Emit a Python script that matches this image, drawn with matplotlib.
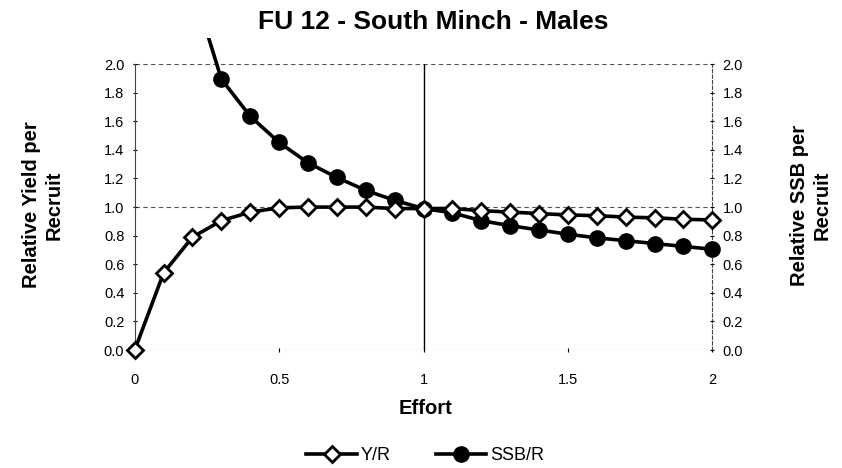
import matplotlib
matplotlib.use("Agg")
import matplotlib.pyplot as plt
from matplotlib.patches import Rectangle

plt.rcParams['font.family'] = ['Liberation Sans', 'DejaVu Sans']

effort = [0.0, 0.1, 0.2, 0.3, 0.4, 0.5, 0.6, 0.7, 0.8, 0.9, 1.0,
          1.1, 1.2, 1.3, 1.4, 1.5, 1.6, 1.7, 1.8, 1.9, 2.0]
yr = [0.0, 0.54, 0.79, 0.905, 0.965, 0.995, 1.0, 1.0, 1.0, 0.99, 0.99,
      0.99, 0.975, 0.965, 0.955, 0.945, 0.94, 0.93, 0.925, 0.915, 0.91]
ssbr = [5.5, 3.6, 2.55, 1.895, 1.635, 1.452, 1.31, 1.207, 1.117, 1.047, 0.99,
        0.96, 0.905, 0.87, 0.84, 0.81, 0.785, 0.765, 0.745, 0.725, 0.705]
yticks = [0.0, 0.2, 0.4, 0.6, 0.8, 1.0, 1.2, 1.4, 1.6, 1.8, 2.0]
xticks = [0, 0.5, 1, 1.5, 2]
xticklabels = ['0', '0.5', '1', '1.5', '2']

fig = plt.figure(figsize=(8.42, 4.68), dpi=100)
ax = fig.add_axes([0.160, 0.252, 0.686, 0.611])
ax.set_xlim(0, 2)
ax.set_ylim(0, 2)

for yv in (0.0, 1.0, 2.0):
    ax.axhline(yv, color='#555555', lw=0.8, ls=(0, (4, 3)), zorder=1)
ax.axvline(1.0, color='black', lw=1.0, zorder=1)

clip = Rectangle((-0.05, -0.05), 1.1, 1.14, transform=ax.transAxes, visible=False)
ax.add_patch(clip)

l2, = ax.plot(effort, ssbr, color='black', lw=2.6, marker='o', ms=11,
              mfc='black', mec='black', zorder=3, label='SSB/R')
l2.set_clip_path(clip)
l1, = ax.plot(effort, yr, color='black', lw=2.6, marker='D', ms=8,
              mfc='white', mec='black', mew=2, zorder=4, label='Y/R',
              clip_on=False)

ax.set_yticks(yticks)
ax.set_yticklabels([f'{v:.1f}' for v in yticks])
ax.set_xticks(xticks)
ax.set_xticklabels(xticklabels)
ax.tick_params(axis='both', labelsize=10.5, length=3, width=0.8, direction='inout')
ax.tick_params(axis='x', pad=15)
ax.tick_params(axis='y', pad=6)

ax.spines['top'].set_visible(False)
ax.spines['bottom'].set_visible(False)
ax.spines['right'].set_linestyle((0, (3, 2)))
ax.spines['right'].set_color('#444444')
ax.spines['left'].set_color('#444444')
ax.spines['left'].set_linewidth(0.8)
ax.spines['right'].set_linewidth(0.8)

ax2 = ax.twinx()
ax2.set_ylim(0, 2)
ax2.set_yticks(yticks)
ax2.set_yticklabels([f'{v:.1f}' for v in yticks])
ax2.tick_params(axis='y', labelsize=10.5, length=3, width=0.8, direction='inout', pad=6)
for s in ax2.spines.values():
    s.set_visible(False)

fig.text(0.515, 0.953, 'FU 12 - South Minch - Males', ha='center', va='center',
         fontsize=19, fontweight='bold')
fig.text(0.051, 0.562, 'Relative Yield per\nRecruit', ha='center', va='center',
         rotation=90, fontsize=14.5, fontweight='bold', linespacing=1.25)
fig.text(0.963, 0.562, 'Relative SSB per\nRecruit', ha='center', va='center',
         rotation=90, fontsize=14.5, fontweight='bold', linespacing=1.25)
fig.text(0.505, 0.128, 'Effort', ha='center', va='center', fontsize=14.5,
         fontweight='bold')

fig.legend(handles=[l1, l2], loc='center', bbox_to_anchor=(0.505, 0.027),
           ncol=2, frameon=False, fontsize=13, handlelength=2.8,
           columnspacing=2.5, handletextpad=0.2, borderpad=0)

fig.savefig('out.png', dpi=100)
